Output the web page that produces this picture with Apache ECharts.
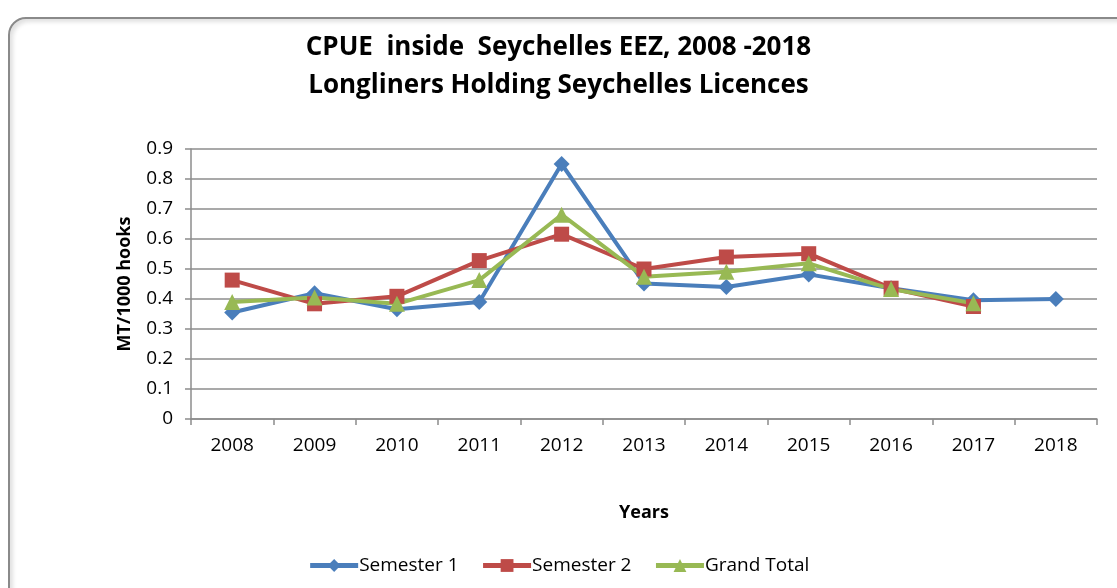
<!DOCTYPE html>
<html>
<head>
<meta charset="utf-8">
<script src="https://cdn.jsdelivr.net/npm/echarts@6/dist/echarts.min.js"></script>
<style>
  html, body { margin: 0; padding: 0; background: #fff; }
  #frame {
    position: absolute; left: 8px; top: 17px; width: 1130px; height: 590px;
    border: 2px solid #8a8a8a; border-radius: 18px; box-sizing: border-box;
    box-shadow: inset 3px 3px 4px rgba(0,0,0,0.12);
  }
  #chart { position: absolute; left: 0; top: 0; width: 1117px; height: 588px; }
</style>
</head>
<body>
<div id="frame"></div>
<div id="chart"></div>
<script>
// 数据
const years = ['2008', '2009', '2010', '2011', '2012', '2013', '2014', '2015', '2016', '2017', '2018']
const semester1 = [0.355, 0.419, 0.366, 0.390, 0.850, 0.452, 0.440, 0.482, 0.436, 0.396, 0.400]
const semester2 = [0.463, 0.384, 0.409, 0.528, 0.616, 0.500, 0.540, 0.551, 0.436, 0.375, null]
const grandTotal = [0.390, 0.405, 0.384, 0.463, 0.681, 0.474, 0.491, 0.519, 0.433, 0.386, null]
const yTicks = [0, 0.1, 0.2, 0.3, 0.4, 0.5, 0.6, 0.7, 0.8, 0.9]

const font = '"Open Sans", "Noto Sans", sans-serif'
const gridColor = '#8c8c8c'

const chart = echarts.init(document.getElementById('chart'))

function lineSeries(name, data, color, symbol, size) {
  return {
    name: name,
    type: 'line',
    data: data,
    symbol: symbol,
    symbolSize: size,
    lineStyle: { width: 4, color: color },
    itemStyle: { color: color },
    emphasis: { disabled: true },
    animation: false
  }
}

chart.setOption({
  title: {
    text: 'CPUE  inside  Seychelles EEZ, 2008 -2018\nLongliners Holding Seychelles Licences',
    left: 'center',
    top: 24,
    textStyle: { fontFamily: font, fontWeight: 'bold', fontSize: 26, lineHeight: 38, color: '#000' }
  },
  legend: {
    bottom: 8,
    left: 'center',
    itemWidth: 48,
    itemHeight: 16,
    itemGap: 22,
    lineStyle: { width: 5 },
    textStyle: { fontFamily: font, fontSize: 19, color: '#000', padding: [0, 0, 0, -4] },
    data: ['Semester 1', 'Semester 2', 'Grand Total']
  },
  grid: { left: 191, right: 20, top: 149, bottom: 169 },
  xAxis: {
    type: 'category',
    data: years,
    boundaryGap: true,
    name: 'Years',
    nameLocation: 'middle',
    nameGap: 85,
    nameTextStyle: { fontFamily: font, fontWeight: 'bold', fontSize: 18, color: '#000' },
    axisLine: { lineStyle: { color: gridColor, width: 1.5 } },
    axisTick: { show: true, alignWithLabel: false, length: 6, lineStyle: { color: gridColor, width: 1.5 } },
    axisLabel: { fontFamily: font, fontSize: 19, color: '#000', margin: 17 }
  },
  yAxis: {
    type: 'value',
    min: 0,
    max: 0.9,
    interval: 0.1,
    name: 'MT/1000 hooks',
    nameLocation: 'middle',
    nameGap: 57,
    nameTextStyle: { fontFamily: font, fontWeight: 'bold', fontSize: 18, color: '#000' },
    axisLine: { show: true, lineStyle: { color: gridColor, width: 1.5 } },
    axisTick: { show: true, length: 6, lineStyle: { color: gridColor, width: 1.5 } },
    axisLabel: {
      fontFamily: font, fontSize: 19, color: '#000', margin: 18,
      formatter: v => {
        const t = yTicks.find(k => Math.abs(k - v) < 1e-6)
        return t === undefined ? '' : String(t)
      }
    },
    splitLine: { show: true, lineStyle: { color: gridColor, width: 1.5 } }
  },
  series: [
    lineSeries('Semester 1', semester1, '#4a7ebb', 'diamond', 16),
    lineSeries('Semester 2', semester2, '#be4b48', 'rect', 15),
    lineSeries('Grand Total', grandTotal, '#98b954', 'triangle', 16)
  ]
})
</script>
</body>
</html>
